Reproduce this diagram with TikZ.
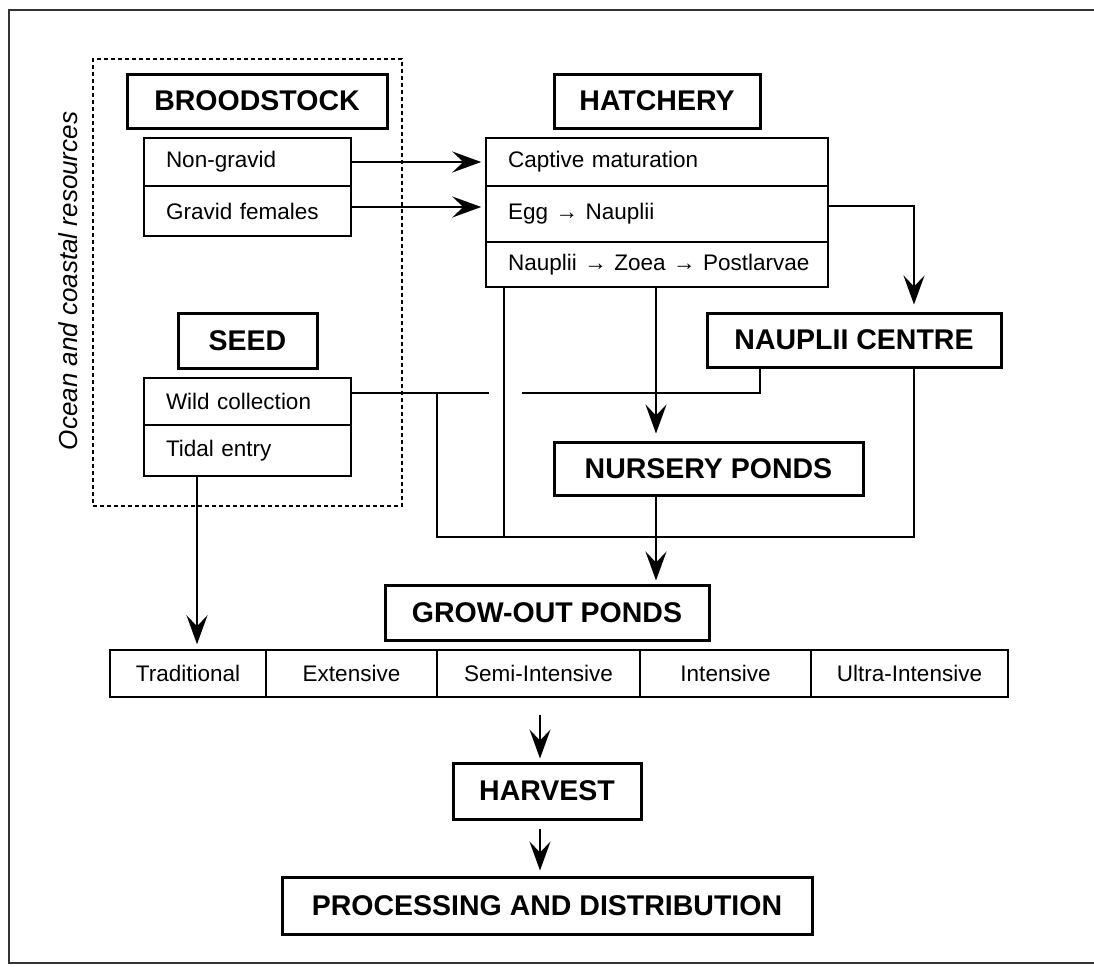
\documentclass[tikz,border=0pt]{standalone}
\usepackage{fontspec}
\setmainfont{Liberation Sans}
\usetikzlibrary{arrows.meta}
\tikzset{
  titlebox/.style={draw, line width=3pt, font=\bfseries\fontsize{28.5}{32}\selectfont, inner sep=0pt},
  cellL/.style={draw, line width=1.5pt, font=\fontsize{22.5}{25}\selectfont, inner xsep=22pt, inner ysep=0pt, align=left},
  cellC/.style={draw, line width=1.5pt, font=\fontsize{22.5}{25}\selectfont, inner sep=0pt},
  conn/.style={line width=2.4pt},
  arr/.style={conn, -{Stealth[length=29pt,width=21pt,inset=11pt]}},
}
\begin{document}
\begin{tikzpicture}[x=1pt,y=-1pt]
\useasboundingbox (0,0) rectangle (1094,966);
% outer frame (right side cut off)
\draw[line width=1.5pt, black!80] (1094,10) -- (9,10) -- (9,963) -- (1094,963);

% ocean and coastal resources group
\node[draw, dashed, dash pattern=on 4pt off 3pt, line width=1.3pt, minimum width=309pt, minimum height=447pt, inner sep=0pt] (ocean) at (247.5,282.5) {};
\node[rotate=90, inner sep=0pt, font=\itshape\fontsize{26}{28}\selectfont] (oclabel) at (68,281) {Ocean and coastal resources};

% broodstock
\node[titlebox, minimum width=260pt, minimum height=54pt] (bs) at (257,101) {BROODSTOCK};
\node[cellL, text width=163pt, minimum height=48pt] (ng) at (247.5,162) {Non-gravid};
\node[cellL, text width=163pt, minimum height=50pt] (gf) at (247.5,211) {Gravid females};

% seed
\node[titlebox, minimum width=139pt, minimum height=55pt] (sd) at (247.5,340.5) {SEED};
\node[cellL, text width=163pt, minimum height=47pt] (wc) at (247.5,401.5) {Wild collection};
\node[cellL, text width=163pt, minimum height=51pt] (te) at (247.5,450.5) {Tidal entry};

% hatchery
\node[titlebox, minimum width=206pt, minimum height=54pt] (hc) at (657,101) {HATCHERY};
\node[cellL, text width=298pt, minimum height=48pt] (cm) at (657,162) {Captive maturation};
\node[cellL, text width=298pt, minimum height=56pt] (en) at (657,214) {Egg → Nauplii};
\node[cellL, text width=298pt, minimum height=45pt] (nz) at (657,264.5) {\mbox{Nauplii → Zoea → Postlarvae}};

% centres and ponds
\node[titlebox, minimum width=294pt, minimum height=54pt] (nc) at (854,340) {NAUPLII CENTRE};
\node[titlebox, minimum width=309pt, minimum height=53pt] (np) at (708.5,468.5) {NURSERY PONDS};
\node[titlebox, minimum width=324pt, minimum height=55pt] (go) at (547,612.5) {GROW-OUT PONDS};

% grow-out systems row
\node[cellC, minimum width=156pt, minimum height=47pt] (tr) at (188,673.5) {Traditional};
\node[cellC, minimum width=171pt, minimum height=47pt] (ex) at (351.5,673.5) {Extensive};
\node[cellC, minimum width=203pt, minimum height=47pt] (si) at (538.5,673.5) {Semi-Intensive};
\node[cellC, minimum width=171pt, minimum height=47pt] (in) at (725.5,673.5) {Intensive};
\node[cellC, minimum width=197pt, minimum height=47pt] (ui) at (909.5,673.5) {Ultra-Intensive};

% harvest and processing
\node[titlebox, minimum width=188pt, minimum height=56pt] (hv) at (547,791) {HARVEST};
\node[titlebox, minimum width=530pt, minimum height=57pt] (pd) at (547,905.5) {PROCESSING AND DISTRIBUTION};

% junction coordinates
\coordinate (wy) at ([yshift=8.5pt]wc.east);
\coordinate (gapL) at (489,393);
\coordinate (gapR) at (522,393);
\coordinate (ncL) at ([xshift=-94pt]nc.south);
\coordinate (ncR) at ([xshift=60pt]nc.south);
\coordinate (ncT) at ([xshift=60pt]nc.north);
\coordinate (hL) at ([xshift=-153pt]nz.south);
\coordinate (wdrop) at (437,393);
\coordinate (bot) at (437,537);
\coordinate (h1) at (540,715);
\coordinate (h2) at ([xshift=-7pt]hv.south);

% broodstock to hatchery
\draw[arr, shorten >=4pt] (ng.east) -- (cm.west);
\draw[arr, shorten >=4pt] ([yshift=4pt]gf.east) -- ([yshift=7pt]en.west);

% hatchery to nauplii centre
\draw[arr, shorten >=7pt] ([yshift=8pt]en.east) -| (ncT);

% hatchery to nursery
\draw[arr, shorten >=7pt] ([xshift=-1pt]nz.south) -- ([xshift=-1pt]nz.south |- np.north);

% nursery to grow-out
\draw[arr, shorten >=3pt] ([xshift=-1pt]nz.south |- np.south) -- ([xshift=-1pt]nz.south |- go.north);

% wild collection / nauplii centre line (broken at crossing)
\draw[conn] (wy) -- (gapL);
\draw[conn] (gapR) -- (ncL |- gapR) -- (ncL);

% bypass lines to grow-out
\draw[conn] (wdrop) -- (bot) -- (bot -| ncR) -- (ncR);
\draw[conn] (hL) -- (hL |- bot);

% tidal entry to traditional
\draw[arr, shorten >=5pt] ([xshift=-50.5pt]te.south) -- ([xshift=-50.5pt]te.south |- tr.north);

% to harvest and processing
\draw[arr, line width=1.8pt, shorten >=3pt] (h1) -- (h1 |- hv.north);
\draw[arr, line width=1.8pt, shorten <=8pt, shorten >=5pt] (h2) -- (h2 |- pd.north);
\end{tikzpicture}
\end{document}
